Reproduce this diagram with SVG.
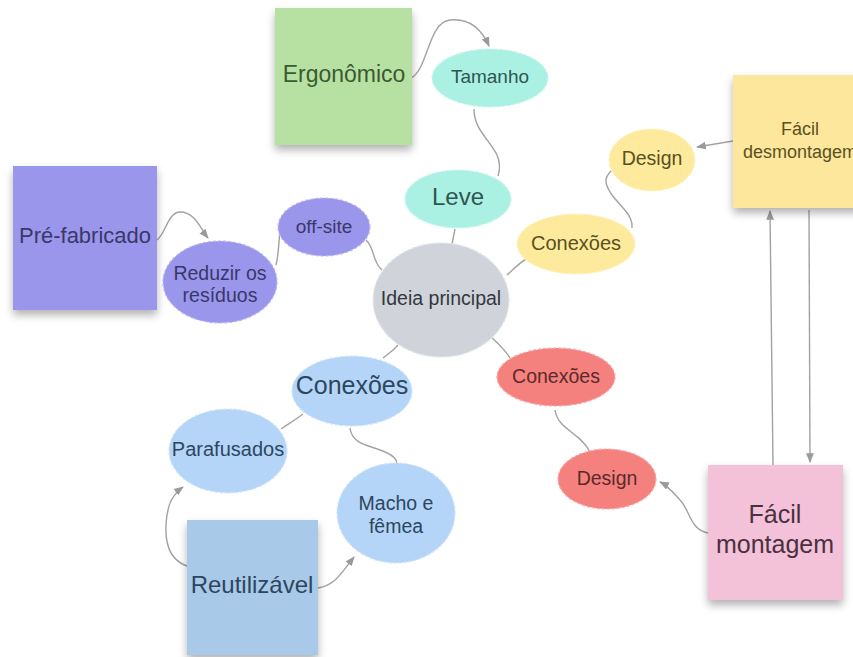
<svg xmlns="http://www.w3.org/2000/svg" width="853" height="657" viewBox="0 0 853 657">
  <defs>
    <filter id="shadow" x="-20%" y="-20%" width="140%" height="150%">
      <feDropShadow dx="0" dy="5" stdDeviation="4" flood-color="#000" flood-opacity="0.3"/>
    </filter>
    <marker id="arr" viewBox="0 0 10 10" refX="9" refY="5" markerWidth="7" markerHeight="7" orient="auto-start-reverse">
      <path d="M0,1 L10,5 L0,9 z" fill="#9a9a9a"/>
    </marker>
  </defs>
  <style>
    text { font-family: "Liberation Sans", Arial, sans-serif; text-anchor: middle; }
    .conn path { fill: none; stroke: #a2a2a2; stroke-width: 1.4; }
    .ell { stroke-width: 1.2; stroke-dasharray: 3 2; }
    .box { filter: url(#shadow); }
  </style>
  <rect width="853" height="657" fill="#ffffff"/>

  <!-- connectors -->
  <g id="connectors" class="conn">
    <path d="M411,78 C428,70 428,22 450,20 C470,18 482,30 489,46" marker-end="url(#arr)"/>
    <path d="M474,109 C474,130 490,140 497,155 C500,162 500,170 498,176"/>
    <path d="M455,229 L452,244"/>
    <path d="M157,240 C165,235 168,212 180,212 C195,212 200,228 208,238" marker-end="url(#arr)"/>
    <path d="M276,265 C280,250 278,230 283,215"/>
    <path d="M366,240 C375,248 372,262 382,270"/>
    <path d="M507,275 C515,268 520,262 528,258"/>
    <path d="M612,170 C603,178 605,185 612,195 C622,208 633,215 632,228"/>
    <path d="M733,141 L697,147" marker-end="url(#arr)"/>
    <path d="M773,465 L770,211" marker-end="url(#arr)"/>
    <path d="M809,210 L810,462" marker-end="url(#arr)"/>
    <path d="M492,338 C500,345 505,350 510,358"/>
    <path d="M555,410 C558,430 580,432 590,452"/>
    <path d="M708,533 C690,530 690,510 680,500 C673,492 668,486 660,482" marker-end="url(#arr)"/>
    <path d="M398,345 C392,352 390,352 383,358"/>
    <path d="M303,414 C295,420 290,423 281,429"/>
    <path d="M350,428 C352,445 370,445 385,452 C395,456 397,460 397,464"/>
    <path d="M187,566 C170,560 165,545 166,525 C167,505 172,495 183,487" marker-end="url(#arr)"/>
    <path d="M318,588 C335,585 340,575 354,557" marker-end="url(#arr)"/>
  </g>

  <!-- square nodes -->
  <g id="ergonomico">
    <rect class="box" x="275" y="8" width="137" height="137" fill="#b7e1a2"/>
    <text x="344" y="82" font-size="23" fill="#3b5a31">Ergonômico</text>
  </g>
  <g id="prefabricado">
    <rect class="box" x="13" y="166" width="144" height="144" fill="#9a96ec"/>
    <text x="85" y="243" font-size="22" fill="#3a3868">Pré-fabricado</text>
  </g>
  <g id="facil-desmontagem">
    <rect class="box" x="733" y="75" width="134" height="133" fill="#fde79d"/>
    <text x="800" y="135" font-size="18" fill="#5a5020">Fácil</text>
    <text x="800" y="158" font-size="18" fill="#5a5020">desmontagem</text>
  </g>
  <g id="facil-montagem">
    <rect class="box" x="708" y="465" width="135" height="135" fill="#f3c1d8"/>
    <text x="775" y="523" font-size="25" fill="#4a3040">Fácil</text>
    <text x="775" y="553" font-size="25" fill="#4a3040">montagem</text>
  </g>
  <g id="reutilizavel">
    <rect class="box" x="187" y="520" width="131" height="135" fill="#a9c9e9"/>
    <text x="252" y="593" font-size="24" fill="#2e4560">Reutilizável</text>
  </g>

  <!-- ellipse nodes -->
  <g id="tamanho">
    <ellipse class="ell" cx="490" cy="78" rx="58" ry="29" fill="#aaf1e3" stroke="#c8f6ee"/>
    <text x="490" y="83" font-size="19" fill="#2f5650">Tamanho</text>
  </g>
  <g id="leve">
    <ellipse class="ell" cx="458" cy="199" rx="53" ry="29" fill="#aaf1e3" stroke="#c8f6ee"/>
    <text x="458" y="205" font-size="24" fill="#2f5650">Leve</text>
  </g>
  <g id="off-site">
    <ellipse class="ell" cx="324" cy="227" rx="46" ry="29" fill="#9a96ec" stroke="#b8b5f2"/>
    <text x="324" y="233" font-size="19" fill="#3a3868">off-site</text>
  </g>
  <g id="reduzir">
    <ellipse class="ell" cx="220" cy="282" rx="57" ry="41" fill="#9a96ec" stroke="#b8b5f2"/>
    <text x="220" y="280" font-size="19.5" fill="#3a3868">Reduzir os</text>
    <text x="220" y="302" font-size="19.5" fill="#3a3868">resíduos</text>
  </g>
  <g id="ideia-principal">
    <ellipse class="ell" cx="441" cy="300" rx="68" ry="57" fill="#d0d4da" stroke="#e2e5e9"/>
    <text x="441" y="305" font-size="19.5" fill="#333840">Ideia principal</text>
  </g>
  <g id="conexoes-amarelo">
    <ellipse class="ell" cx="576" cy="244" rx="59" ry="30" fill="#fdea9c" stroke="#fef3c4"/>
    <text x="576" y="250" font-size="20" fill="#5a5020">Conexões</text>
  </g>
  <g id="design-amarelo">
    <ellipse class="ell" cx="652" cy="160" rx="43" ry="31" fill="#fdea9c" stroke="#fef3c4"/>
    <text x="652" y="165" font-size="19.5" fill="#5a5020">Design</text>
  </g>
  <g id="conexoes-vermelho">
    <ellipse class="ell" cx="556" cy="377" rx="59" ry="29" fill="#f5817f" stroke="#f8a9a8"/>
    <text x="556" y="383" font-size="19.5" fill="#5a2a2a">Conexões</text>
  </g>
  <g id="design-vermelho">
    <ellipse class="ell" cx="607" cy="479" rx="49" ry="30" fill="#f5817f" stroke="#f8a9a8"/>
    <text x="607" y="485" font-size="19.5" fill="#5a2a2a">Design</text>
  </g>
  <g id="conexoes-azul">
    <ellipse class="ell" cx="352" cy="391" rx="60" ry="35" fill="#b4d5f7" stroke="#d0e4fa"/>
    <text x="352" y="394" font-size="25" fill="#2d4660">Conexões</text>
  </g>
  <g id="parafusados">
    <ellipse class="ell" cx="228" cy="451" rx="59" ry="42" fill="#b4d5f7" stroke="#d0e4fa"/>
    <text x="228" y="456" font-size="20" fill="#2d4660">Parafusados</text>
  </g>
  <g id="macho-femea">
    <ellipse class="ell" cx="396" cy="513" rx="59" ry="50" fill="#b4d5f7" stroke="#d0e4fa"/>
    <text x="396" y="510" font-size="19.5" fill="#2d4660">Macho e</text>
    <text x="396" y="533" font-size="19.5" fill="#2d4660">fêmea</text>
  </g>
</svg>
